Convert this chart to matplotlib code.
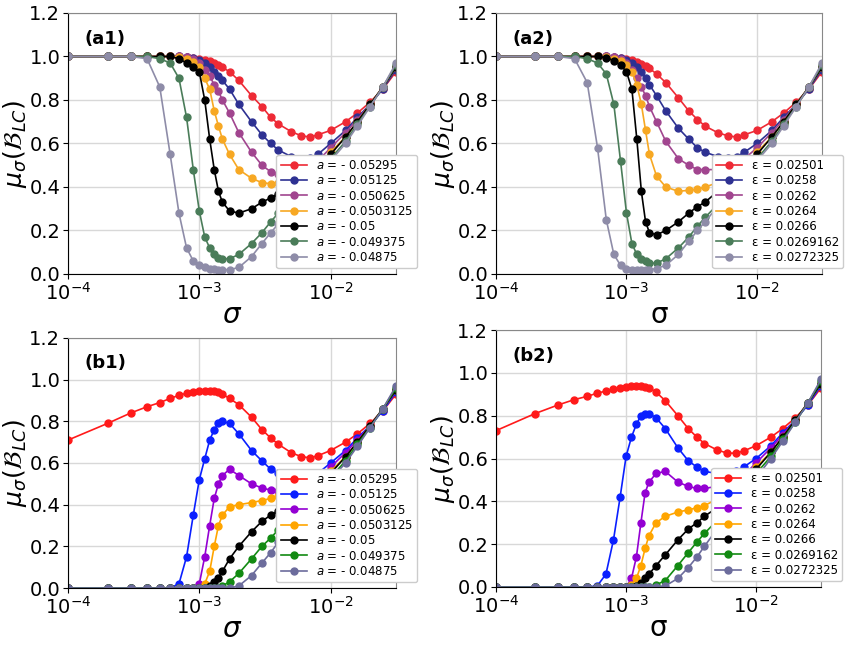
import matplotlib
matplotlib.use("Agg")
import matplotlib.pyplot as plt
import numpy as np

sigma = [1e-4,2e-4,3e-4,4e-4,5e-4,6e-4,7e-4,8e-4,9e-4,1e-3,1.1e-3,1.2e-3,1.3e-3,1.4e-3,1.5e-3,1.7e-3,
         2e-3,2.5e-3,3e-3,3.5e-3,4e-3,5e-3,6e-3,7e-3,8e-3,1e-2,1.3e-2,1.6e-2,2e-2,2.5e-2,3.15e-2]

labels_a = ["$a$ = - 0.05295","$a$ = - 0.05125","$a$ = - 0.050625","$a$ = - 0.0503125",
            "$a$ = - 0.05","$a$ = - 0.049375","$a$ = - 0.04875"]
labels_e = ["ε = 0.02501","ε = 0.0258","ε = 0.0262","ε = 0.0264","ε = 0.0266","ε = 0.0269162","ε = 0.0272325"]

tail_r = [.66,.70,.74,.79,.85,.93]
tail_b = [.60,.66,.72,.78,.85,.94]
tail_x = [.56,.63,.70,.78,.86,.95]

a1 = [
 [1,1,1,1,1,1,1,.998,.995,.99,.985,.98,.97,.96,.95,.93,.89,.82,.77,.72,.69,.655,.635,.63,.64]+tail_r,
 [1,1,1,1,1,1,1,.998,.995,.985,.97,.95,.93,.91,.89,.85,.78,.70,.64,.60,.57,.54,.53,.535,.55]+tail_b,
 [1,1,1,1,1,1,1,.998,.99,.97,.94,.91,.87,.84,.80,.74,.65,.56,.50,.47,.46,.46,.475,.50,.52,.58,.65,.71,.78,.86,.95],
 [1,1,1,1,1,1,.998,.99,.975,.95,.90,.85,.75,.68,.62,.55,.48,.44,.42,.415,.42,.44,.46,.48,.50]+tail_x,
 [1,1,1,1,1,1,.99,.97,.95,.93,.80,.62,.48,.38,.33,.29,.28,.30,.33,.35,.37,.40,.43,.46,.49,.55,.63,.70,.78,.86,.95],
 [1,1,1,1,.99,.97,.90,.72,.48,.29,.17,.12,.09,.075,.07,.07,.09,.14,.19,.24,.28,.34,.39,.43,.47,.53,.61,.69,.77,.86,.96],
 [1,1,1,.99,.86,.55,.28,.12,.06,.04,.03,.025,.022,.02,.02,.02,.03,.08,.14,.19,.23,.30,.36,.41,.45,.52,.60,.68,.77,.86,.97],
]
a2 = [
 [1,1,1,1,1,1,1,.998,.995,.99,.985,.975,.965,.955,.945,.92,.88,.81,.75,.71,.68,.65,.635,.63,.64]+tail_r,
 [1,1,1,1,1,1,1,.998,.995,.985,.97,.95,.93,.90,.87,.82,.75,.67,.62,.58,.56,.54,.535,.54,.56]+tail_b,
 [1,1,1,1,1,1,1,.998,.99,.97,.94,.90,.86,.82,.77,.70,.61,.53,.50,.48,.48,.48,.49,.51,.53,.58,.65,.71,.78,.86,.95],
 [1,1,1,1,1,1,.998,.99,.98,.96,.93,.87,.78,.66,.55,.45,.40,.38,.385,.39,.40,.42,.45,.47,.49]+tail_x,
 [1,1,1,1,1,1,.995,.98,.96,.93,.85,.62,.38,.24,.19,.18,.20,.24,.28,.31,.33,.38,.42,.45,.48,.55,.63,.70,.78,.86,.95],
 [1,1,1,1,.99,.97,.92,.78,.52,.28,.14,.09,.07,.06,.05,.05,.07,.12,.17,.22,.26,.32,.37,.42,.46,.53,.61,.69,.77,.86,.96],
 [1,1,1,.99,.88,.58,.25,.09,.04,.025,.02,.02,.02,.02,.02,.025,.04,.09,.15,.20,.24,.31,.37,.42,.46,.52,.60,.68,.77,.86,.97],
]
b1 = [
 [.71,.79,.84,.87,.89,.91,.925,.935,.94,.945,.948,.948,.945,.94,.93,.91,.88,.82,.76,.72,.69,.65,.63,.625,.635]+tail_r,
 [0,0,0,0,0,0,.02,.15,.35,.52,.62,.71,.76,.79,.80,.79,.74,.66,.61,.57,.55,.53,.525,.53,.55]+tail_b,
 [0,0,0,0,0,0,0,0,0,.02,.15,.30,.43,.50,.54,.57,.54,.50,.48,.47,.465,.47,.48,.50,.52,.58,.65,.71,.78,.86,.95],
 [0,0,0,0,0,0,0,0,0,0,.02,.08,.20,.30,.35,.39,.40,.41,.42,.43,.44,.45,.47,.49,.51]+tail_x,
 [0,0,0,0,0,0,0,0,0,0,0,.01,.03,.05,.08,.14,.20,.27,.32,.35,.37,.40,.43,.46,.49,.55,.63,.70,.78,.86,.95],
 [0,0,0,0,0,0,0,0,0,0,0,0,0,0,.01,.03,.07,.14,.20,.24,.28,.34,.39,.43,.47,.53,.61,.69,.77,.86,.96],
 [0,0,0,0,0,0,0,0,0,0,0,0,0,0,0,0,.01,.06,.12,.17,.22,.29,.35,.40,.45,.52,.60,.68,.77,.86,.97],
]
b2 = [
 [.73,.81,.85,.875,.89,.905,.915,.925,.93,.935,.94,.94,.94,.935,.93,.91,.87,.80,.74,.70,.67,.64,.625,.625,.635]+tail_r,
 [0,0,0,0,0,.005,.06,.22,.42,.61,.70,.76,.80,.81,.81,.79,.74,.65,.59,.56,.54,.53,.53,.54,.56]+tail_b,
 [0,0,0,0,0,0,0,0,0,0,.04,.14,.30,.44,.49,.53,.54,.49,.47,.46,.46,.47,.48,.50,.52,.58,.65,.71,.78,.86,.95],
 [0,0,0,0,0,0,0,0,0,0,.01,.04,.10,.18,.24,.30,.33,.35,.36,.37,.38,.41,.44,.47,.50]+tail_x,
 [0,0,0,0,0,0,0,0,0,0,0,.005,.02,.04,.06,.10,.15,.22,.27,.30,.33,.37,.41,.45,.48,.55,.63,.70,.78,.86,.95],
 [0,0,0,0,0,0,0,0,0,0,0,0,0,0,0,.01,.03,.10,.16,.21,.25,.31,.37,.42,.46,.53,.61,.69,.77,.86,.96],
 [0,0,0,0,0,0,0,0,0,0,0,0,0,0,0,0,.005,.04,.09,.14,.19,.27,.33,.39,.44,.51,.60,.68,.77,.86,.97],
]

colors_a = ['#ee2a35','#2e3192','#a1458f','#f7a823','#000000','#4a7c59','#8e8ca8']
colors_b = ['#ff1a1a','#0a1fff','#9400d3','#ffa500','#000000','#128a12','#6c6c9c']

fig = plt.figure(figsize=(8.56,6.58), dpi=100)
W, H = 856, 658
boxes = [(68,13,396,274),(496,13,822,274),(68,338,396,588),(496,330,821,587)]
panels = [(a1,colors_a,labels_a,'(a1)',r'$\sigma$'),
          (a2,colors_a,labels_e,'(a2)','σ'),
          (b1,colors_b,labels_a,'(b1)',r'$\sigma$'),
          (b2,colors_b,labels_e,'(b2)','σ')]
for (l,t,r,b),(data,cols,labs,tag,xl) in zip(boxes,panels):
    ax = fig.add_axes([l/W, 1-b/H, (r-l)/W, (b-t)/H])
    for ys,c,lab in zip(data,cols,labs):
        ax.plot(sigma, ys, '-o', color=c, ms=5, lw=1.2, label=lab)
    ax.set_xscale('log')
    ax.set_xlim(1e-4, 3.15e-2)
    ax.set_ylim(0, 1.2)
    ax.set_yticks(np.arange(0,1.21,0.2))
    ax.grid(True, color='#d8d8d8', lw=1)
    ax.set_axisbelow(True)
    ax.tick_params(labelsize=14, pad=2)
    ax.minorticks_off()
    ax.set_xlabel(xl, fontsize=20, labelpad=-2)
    ax.set_ylabel(r'$\mu_\sigma(\mathcal{B}_{LC})$', fontsize=18, labelpad=0)
    ax.text(0.05, 0.88, tag, transform=ax.transAxes, fontsize=13, fontweight='bold')
    for s in ['top','right']:
        ax.spines[s].set_color('#888888')
    xr = (r+27-l)/(r-l)
    ax.legend(loc='lower right', bbox_to_anchor=(xr, 0.0), fontsize=8.5,
              handlelength=2.2, labelspacing=0.2, borderpad=0.35, framealpha=1, edgecolor='#cccccc')
fig.savefig('out.png', dpi=100)
